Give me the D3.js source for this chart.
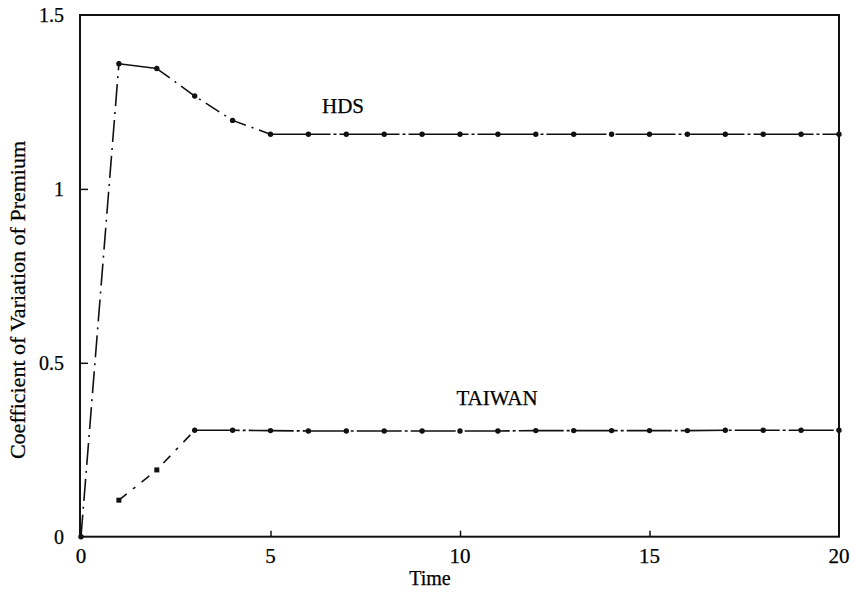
<!DOCTYPE html>
<html>
<head>
<meta charset="utf-8">
<script src="https://cdn.jsdelivr.net/npm/d3@7"></script>
<style>
  body { margin: 0; background: #fff; }
  text { font-family: "Liberation Serif", "DejaVu Serif", serif; fill: #000; stroke: #000; stroke-width: 0.25px; }
</style>
</head>
<body>
<div id="chart"></div>
<script>
// values
const time = [0, 1, 2, 3, 4, 5, 6, 7, 8, 9, 10, 11, 12, 13, 14, 15, 16, 17, 18, 19, 20];
const hds = [0, 1.36, 1.346, 1.267, 1.197, 1.157, 1.157, 1.157, 1.157, 1.157, 1.157,
  1.157, 1.157, 1.157, 1.157, 1.157, 1.157, 1.157, 1.157, 1.157, 1.157];
const taiwanTime = [1, 2, 3, 4, 5, 6, 7, 8, 9, 10, 11, 12, 13, 14, 15, 16, 17, 18, 19, 20];
const taiwan = [0.105, 0.192, 0.306, 0.306, 0.305, 0.304, 0.304, 0.304, 0.304, 0.304,
  0.304, 0.305, 0.305, 0.305, 0.305, 0.305, 0.306, 0.306, 0.306, 0.306];
const xTicks = [0, 5, 10, 15, 20];
const yTicks = [0, 0.5, 1, 1.5];
const yTickLabels = ["0", "0.5", "1", "1.5"];

const width = 855,
  height = 597;

const svg = d3.select("#chart").append("svg")
  .attr("width", width)
  .attr("height", height);

const x = d3.scaleLinear().domain([0, 20]).range([81, 839]);
const y = d3.scaleLinear().domain([0, 1.5]).range([536.7, 15]);

// frame
svg.append("rect")
  .attr("x", x(0) - 1).attr("y", y(1.5))
  .attr("width", x(20) - x(0) + 1).attr("height", y(0) - y(1.5))
  .attr("fill", "none").attr("stroke", "#111").attr("stroke-width", 2);

// inward ticks
svg.append("g")
  .attr("transform", `translate(${x(0) - 1},0)`)
  .call(d3.axisRight(y).tickValues([0.5, 1]).tickSize(8).tickFormat(""))
  .call(g => g.select(".domain").remove())
  .selectAll("line").attr("stroke", "#111").attr("stroke-width", 1.5);

svg.append("g")
  .attr("transform", `translate(0,${y(0)})`)
  .call(d3.axisTop(x).tickValues([5, 10, 15]).tickSize(6).tickFormat(""))
  .call(g => g.select(".domain").remove())
  .selectAll("line").attr("stroke", "#111").attr("stroke-width", 1.5);

// tick labels
svg.append("g").selectAll("text")
  .data(xTicks)
  .join("text")
  .attr("x", d => x(d))
  .attr("y", 563)
  .attr("text-anchor", "middle")
  .style("font-size", "21px")
  .text(d => d);

svg.append("g").selectAll("text")
  .data(yTicks)
  .join("text")
  .attr("x", 64)
  .attr("y", d => y(d) + 7)
  .attr("text-anchor", "end")
  .style("font-size", "20px")
  .text((d, i) => yTickLabels[i]);

// axis titles
svg.append("text")
  .attr("x", 430).attr("y", 585)
  .attr("text-anchor", "middle")
  .style("font-size", "20px")
  .text("Time");

svg.append("text")
  .attr("transform", "translate(25,300) rotate(-90)")
  .attr("text-anchor", "middle")
  .style("font-size", "22px")
  .text("Coefficient of Variation of Premium");

// series
const line = d3.line().x(d => x(d[0])).y(d => y(d[1]));

const hdsPts = time.map((t, i) => [t, hds[i]]);
const twPts = taiwanTime.map((t, i) => [t, taiwan[i]]);

function drawPart(pts, from, to, dash) {
  svg.append("path")
    .datum(pts.slice(from, to + 1))
    .attr("d", line)
    .attr("fill", "none")
    .attr("stroke", "#111")
    .attr("stroke-width", 1.6)
    .attr("stroke-dasharray", dash);
}

drawPart(hdsPts, 0, 1, "22,6,2,6");
drawPart(hdsPts, 1, 2, null);
drawPart(hdsPts, 2, 5, "16,6,2,6");
drawPart(hdsPts, 5, 20, "60,3,3,3");

drawPart(twPts, 0, 2, "10,8,3,8");
drawPart(twPts, 2, 19, "45,3,3,3");

svg.append("g").selectAll("circle")
  .data(hdsPts.concat(twPts.slice(2)))
  .join("circle")
  .attr("cx", d => x(d[0]))
  .attr("cy", d => y(d[1]))
  .attr("r", 2.7)
  .attr("fill", "#111");

svg.append("g").selectAll("rect")
  .data(twPts.slice(0, 2))
  .join("rect")
  .attr("x", d => x(d[0]) - 2.5)
  .attr("y", d => y(d[1]) - 2.5)
  .attr("width", 5).attr("height", 5)
  .attr("fill", "#111");

// series labels
svg.append("text")
  .attr("x", 343).attr("y", 113)
  .attr("text-anchor", "middle")
  .style("font-size", "21px")
  .text("HDS");

svg.append("text")
  .attr("x", 497).attr("y", 405)
  .attr("text-anchor", "middle")
  .style("font-size", "21px")
  .text("TAIWAN");
</script>
</body>
</html>
